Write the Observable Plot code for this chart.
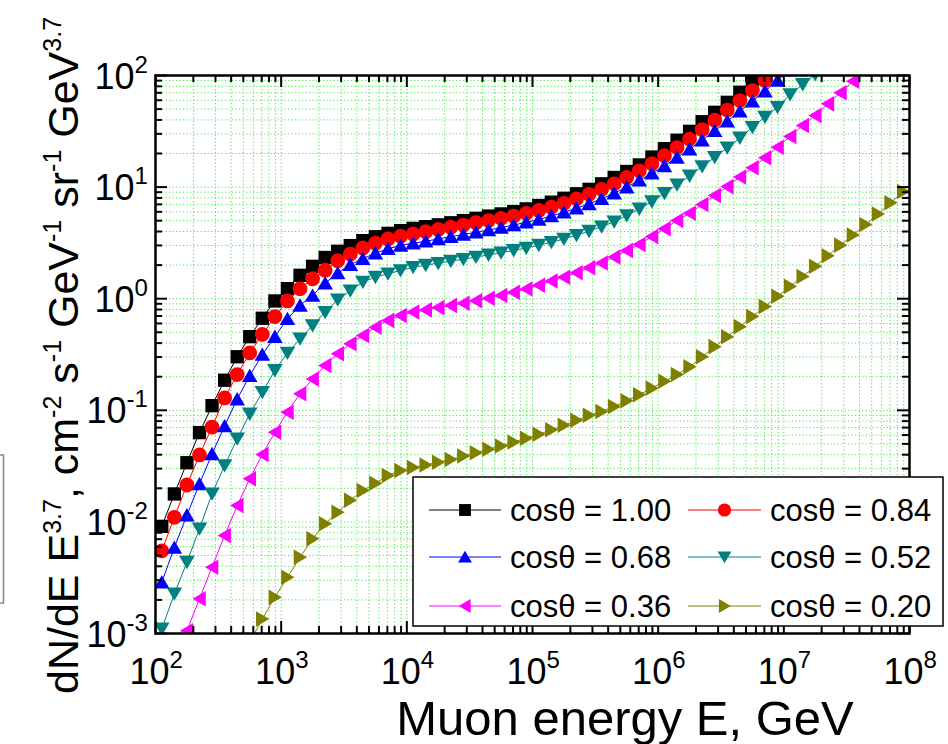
<!DOCTYPE html>
<html>
<head>
<meta charset="utf-8">
<script src="https://cdn.jsdelivr.net/npm/d3@7"></script>
<script src="https://cdn.jsdelivr.net/npm/@observablehq/plot@0.6"></script>
<style>
  html, body { margin: 0; padding: 0; background: #ffffff; }
  #chart { width: 948px; height: 744px; overflow: hidden; }
</style>
</head>
<body>
<div id="chart"></div>
<script>
// ---------- DATA ----------
// Muon energy grid, GeV
const energy = [
  1.122e2, 1.413e2, 1.778e2, 2.239e2, 2.818e2, 3.548e2, 4.467e2, 5.623e2, 7.079e2, 8.913e2,
  1.122e3, 1.413e3, 1.778e3, 2.239e3, 2.818e3, 3.548e3, 4.467e3, 5.623e3, 7.079e3, 8.913e3,
  1.122e4, 1.413e4, 1.778e4, 2.239e4, 2.818e4, 3.548e4, 4.467e4, 5.623e4, 7.079e4, 8.913e4,
  1.122e5, 1.413e5, 1.778e5, 2.239e5, 2.818e5, 3.548e5, 4.467e5, 5.623e5, 7.079e5, 8.913e5,
  1.122e6, 1.413e6, 1.778e6, 2.239e6, 2.818e6, 3.548e6, 4.467e6, 5.623e6, 7.079e6, 8.913e6,
  1.122e7, 1.413e7, 1.778e7, 2.239e7, 2.818e7, 3.548e7, 4.467e7, 5.623e7, 7.079e7, 8.913e7
];

// dN/dE * E^3.7 for each zenith angle
const cos100 = [
  0.00912, 0.0178, 0.0339, 0.0631, 0.110, 0.186, 0.302, 0.457, 0.668, 0.955,
  1.23, 1.62, 1.95, 2.34, 2.66, 2.99, 3.31, 3.59, 3.85, 4.07,
  4.27, 4.42, 4.59, 4.79, 5.01, 5.25, 5.50, 5.75, 6.03, 6.38,
  6.84, 7.33, 7.94, 8.71, 9.55, 10.7, 12.2, 13.8, 15.8, 18.6,
  22.1, 26.3, 31.6, 38.5, 46.8, 57.5, 70.8, 90.2, 112, null,
  null, null, null, null, null, null, null, null, null, null
];
const cos084 = [
  0.00550, 0.0110, 0.0214, 0.0398, 0.0708, 0.129, 0.209, 0.327, 0.479, 0.692,
  0.955, 1.23, 1.51, 1.80, 2.19, 2.51, 2.85, 3.14, 3.43, 3.63,
  3.80, 3.98, 4.17, 4.37, 4.57, 4.79, 5.01, 5.25, 5.50, 5.82,
  6.17, 6.61, 7.16, 7.85, 8.61, 9.55, 10.7, 12.2, 14.0, 16.2,
  19.1, 22.6, 26.9, 32.7, 39.8, 49.0, 59.6, 73.3, 90.2, 111,
  null, null, null, null, null, null, null, null, null, null
];
const cos068 = [
  0.00288, 0.00589, 0.0115, 0.0219, 0.0407, 0.0724, 0.126, 0.204, 0.316, 0.457,
  0.661, 0.871, 1.07, 1.38, 1.70, 2.02, 2.28, 2.56, 2.80, 3.00,
  3.14, 3.27, 3.43, 3.59, 3.76, 3.94, 4.12, 4.34, 4.57, 4.84,
  5.13, 5.50, 5.96, 6.46, 7.08, 7.85, 8.81, 10.0, 11.5, 13.3,
  15.5, 18.4, 21.9, 26.3, 32.0, 38.9, 47.9, 58.9, 72.4, 90.2,
  112, null, null, null, null, null, null, null, null, null
];
const cos052 = [
  0.00110, 0.00227, 0.00436, 0.00867, 0.0179, 0.0320, 0.0556, 0.0929, 0.145, 0.228,
  0.326, 0.437, 0.575, 0.757, 0.977, 1.18, 1.41, 1.56, 1.67, 1.79,
  1.91, 2.00, 2.08, 2.17, 2.26, 2.36, 2.47, 2.58, 2.71, 2.85,
  3.02, 3.20, 3.43, 3.70, 4.03, 4.42, 4.90, 5.56, 6.38, 7.41,
  8.81, 10.5, 12.6, 15.3, 18.5, 22.5, 27.6, 34.4, 42.4, 52.0,
  67.6, 83.2, 102, 126, null, null, null, null, null, null
];
const cos036 = [
  null, 0.000562, 0.00106, 0.00205, 0.00393, 0.00755, 0.0140, 0.0243, 0.0402, 0.0637,
  0.0962, 0.141, 0.191, 0.252, 0.321, 0.394, 0.468, 0.556, 0.638, 0.708,
  0.759, 0.794, 0.832, 0.871, 0.912, 0.959, 1.01, 1.07, 1.14, 1.22,
  1.32, 1.44, 1.56, 1.71, 1.89, 2.09, 2.36, 2.70, 3.06, 3.61,
  4.23, 5.02, 5.83, 6.98, 8.41, 10.1, 12.3, 14.9, 18.3, 22.8,
  28.4, 35.6, 43.9, 55.7, 70.0, 88.9, 112, null, null, null
];
const cos020 = [
  null, null, null, null, null, null, null, 0.000832, 0.00135, 0.00211,
  0.00319, 0.00483, 0.00705, 0.00962, 0.0122, 0.0156, 0.0191, 0.0222, 0.0261, 0.0289,
  0.0307, 0.0324, 0.0343, 0.0363, 0.0389, 0.0417, 0.0447, 0.0479, 0.0519, 0.0562,
  0.0610, 0.0668, 0.0733, 0.0813, 0.0902, 0.0977, 0.108, 0.122, 0.138, 0.158,
  0.182, 0.209, 0.245, 0.302, 0.372, 0.457, 0.562, 0.692, 0.851, 1.05,
  1.29, 1.58, 1.95, 2.43, 3.02, 3.72, 4.62, 5.75, 7.24, 9.12
];

const seriesNames = ["cosθ = 1.00", "cosθ = 0.84", "cosθ = 0.68", "cosθ = 0.52", "cosθ = 0.36", "cosθ = 0.20"];
const seriesValues = [cos100, cos084, cos068, cos052, cos036, cos020];
const seriesColors = ["#000000", "#ff0000", "#0000ff", "#008080", "#ff00ff", "#808000"];
const seriesSymbols = ["square", "circle", "up", "down", "left", "right"];

// Axis ticks
const xTickValues = [1e2, 1e3, 1e4, 1e5, 1e6, 1e7, 1e8];
const xTickExponents = ["2", "3", "4", "5", "6", "7", "8"];
const yTickValuesPos = [1e0, 1e1, 1e2];
const yTickExponentsPos = ["0", "1", "2"];
const yTickValuesNeg = [1e-3, 1e-2, 1e-1];
const yTickExponentsNeg = ["-3", "-2", "-1"];

const xLabel = "Muon energy E, GeV";
const yLabelParts = [["dN/dE E", false], ["3.7", true], [", cm", false], ["-2", true], [" s", false], ["-1", true],
  [" GeV", false], ["-1", true], [" sr", false], ["-1", true], [" GeV", false], ["3.7", true]];

// ---------- LAYOUT ----------
const W = 948, H = 744;
const M = {l: 155, r: 39, t: 75, b: 111};
const iw = W - M.l - M.r;
const ih = H - M.t - M.b;
const FONT = "'Liberation Sans', Arial, Helvetica, sans-serif";

// minor tick positions (2..9 in each decade)
const xMinor = [];
for (let e = 2; e < 8; e++) for (let m = 2; m <= 9; m++) xMinor.push(m * Math.pow(10, e));
const yMinor = [];
for (let e = -3; e < 2; e++) for (let m = 2; m <= 9; m++) yMinor.push(m * Math.pow(10, e));

// custom symbols
function mk(fn) { return {draw(ctx, size) { const r = Math.sqrt(size / Math.PI); fn(ctx, r); }}; }
const symbols = {
  square: mk((c, r) => { const a = r * 0.9; c.moveTo(-a, -a); c.lineTo(a, -a); c.lineTo(a, a); c.lineTo(-a, a); c.closePath(); }),
  circle: mk((c, r) => { c.moveTo(r, 0); c.arc(0, 0, r, 0, 2 * Math.PI); c.closePath(); }),
  up: mk((c, r) => { c.moveTo(0, -r * 0.95); c.lineTo(r * 1.05, r * 0.85); c.lineTo(-r * 1.05, r * 0.85); c.closePath(); }),
  down: mk((c, r) => { c.moveTo(0, r * 0.95); c.lineTo(r * 1.05, -r * 0.85); c.lineTo(-r * 1.05, -r * 0.85); c.closePath(); }),
  left: mk((c, r) => { c.moveTo(-r * 0.95, 0); c.lineTo(r * 0.85, -r * 1.05); c.lineTo(r * 0.85, r * 1.05); c.closePath(); }),
  right: mk((c, r) => { c.moveTo(r * 0.95, 0); c.lineTo(-r * 0.85, -r * 1.05); c.lineTo(-r * 0.85, r * 1.05); c.closePath(); })
};
const R = 7.4;

const seriesMarks = seriesNames.flatMap((name, si) => {
  const data = energy.map((E, i) => ({E, F: seriesValues[si][i]})).filter(d => d.F != null);
  return [
    Plot.line(data, {x: "E", y: "F", stroke: seriesColors[si], strokeWidth: 1, clip: true}),
    Plot.dot(data, {x: "E", y: "F", fill: seriesColors[si], stroke: "none", symbol: symbols[seriesSymbols[si]], r: R, clip: true})
  ];
});

const grid = {stroke: "#55e855", strokeWidth: 1, strokeDasharray: "1.3,2.2"};
const tk = {stroke: "#000", strokeWidth: 2};

const chart = Plot.plot({
  width: W, height: H,
  marginLeft: M.l, marginRight: M.r, marginTop: M.t, marginBottom: M.b,
  style: {fontFamily: FONT, background: "#ffffff", color: "#000", overflow: "visible"},
  x: {type: "log", domain: [1e2, 1e8], axis: null},
  y: {type: "log", domain: [1e-3, 1e2], axis: null},
  marks: [
    Plot.ruleX([...xMinor, ...xTickValues], grid),
    Plot.ruleY([...yMinor, ...yTickValuesNeg, ...yTickValuesPos], grid),
    ...seriesMarks,
    // ticks, inward on all four sides
    Plot.tickX(xTickValues, {x: d => d, insetTop: ih - 12, ...tk}),
    Plot.tickX(xMinor, {x: d => d, insetTop: ih - 7, ...tk}),
    Plot.tickX(xTickValues, {x: d => d, insetBottom: ih - 12, ...tk}),
    Plot.tickX(xMinor, {x: d => d, insetBottom: ih - 7, ...tk}),
    Plot.tickY([...yTickValuesNeg, ...yTickValuesPos], {y: d => d, insetRight: iw - 12, ...tk}),
    Plot.tickY(yMinor, {y: d => d, insetRight: iw - 7, ...tk}),
    Plot.tickY([...yTickValuesNeg, ...yTickValuesPos], {y: d => d, insetLeft: iw - 12, ...tk}),
    Plot.tickY(yMinor, {y: d => d, insetLeft: iw - 7, ...tk}),
    Plot.frame({stroke: "#000", strokeWidth: 2.5}),
    // x tick labels
    Plot.text(xTickValues, {x: d => d, frameAnchor: "bottom", text: () => "10", textAnchor: "end", lineAnchor: "bottom", dx: 14, dy: 50, fontSize: 36, fill: "#000"}),
    Plot.text(xTickValues, {x: d => d, frameAnchor: "bottom", text: (d, i) => xTickExponents[i], textAnchor: "start", lineAnchor: "bottom", dx: 14, dy: 34, fontSize: 24, fill: "#000"}),
    // y tick labels
    Plot.text(yTickValuesPos, {y: d => d, frameAnchor: "left", text: () => "10", textAnchor: "end", lineAnchor: "bottom", dx: -21, dy: 13, fontSize: 36, fill: "#000"}),
    Plot.text(yTickValuesPos, {y: d => d, frameAnchor: "left", text: (d, i) => yTickExponentsPos[i], textAnchor: "start", lineAnchor: "bottom", dx: -21, dy: -3, fontSize: 24, fill: "#000"}),
    Plot.text(yTickValuesNeg, {y: d => d, frameAnchor: "left", text: () => "10", textAnchor: "end", lineAnchor: "bottom", dx: -29, dy: 13, fontSize: 36, fill: "#000"}),
    Plot.text(yTickValuesNeg, {y: d => d, frameAnchor: "left", text: (d, i) => yTickExponentsNeg[i], textAnchor: "start", lineAnchor: "bottom", dx: -29, dy: -3, fontSize: 24, fill: "#000"})
  ]
});

document.getElementById("chart").appendChild(chart);

// ---------- extra text / legend (DOM) ----------
const svg = d3.select(chart);

// partial box at left edge
svg.append("rect").attr("x", -60).attr("y", 455).attr("width", 63.5).attr("height", 148)
  .attr("fill", "none").attr("stroke", "#888").attr("stroke-width", 1.5);

// x axis title
svg.append("text").attr("x", 625).attr("y", 735).attr("text-anchor", "middle")
  .attr("font-family", FONT).attr("font-size", 49).attr("fill", "#000").text(xLabel);

// y axis title with superscripts
const yt = svg.append("text").attr("transform", "translate(78,694) rotate(-90)")
  .attr("text-anchor", "start")
  .attr("font-family", FONT).attr("font-size", 43).attr("fill", "#000");
let raised = false;
yLabelParts.forEach(([t, sup]) => {
  const ts = yt.append("tspan").text(t);
  if (sup && !raised) { ts.attr("dy", -17).attr("font-size", 25); raised = true; }
  else if (sup) { ts.attr("font-size", 25); }
  else if (!sup && raised) { ts.attr("dy", 17); raised = false; }
});

// legend
const lg = svg.append("g").attr("font-family", FONT).attr("text-anchor", "start");
lg.append("rect").attr("x", 413).attr("y", 477).attr("width", 530).attr("height", 149)
  .attr("fill", "#fff").attr("stroke", "#000").attr("stroke-width", 1.5);
const colLine = [[429, 501], [688, 761]];
const colText = [510, 770];
const rowY = [510, 557, 606];
seriesNames.forEach((name, i) => {
  const col = i % 2, row = Math.floor(i / 2);
  const y = rowY[row];
  lg.append("line").attr("x1", colLine[col][0]).attr("x2", colLine[col][1]).attr("y1", y).attr("y2", y)
    .attr("stroke", seriesColors[i]).attr("stroke-width", 1);
  const p = d3.path();
  symbols[seriesSymbols[i]].draw(p, Math.PI * 6.6 * 6.6);
  lg.append("path").attr("d", p.toString())
    .attr("transform", `translate(${(colLine[col][0] + colLine[col][1]) / 2},${y})`)
    .attr("fill", seriesColors[i]);
  lg.append("text").attr("x", colText[col]).attr("y", y + 11).attr("font-size", 31)
    .attr("text-anchor", "start").attr("fill", "#000").text(name);
});
</script>
</body>
</html>
